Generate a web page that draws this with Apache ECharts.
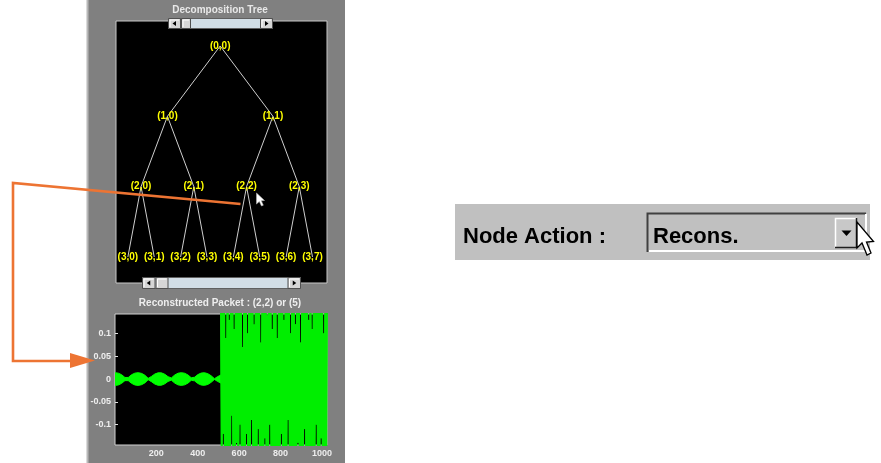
<!DOCTYPE html>
<html>
<head>
<meta charset="utf-8">
<script src="https://cdn.jsdelivr.net/npm/echarts@6/dist/echarts.min.js"></script>
<style>
html,body{margin:0;padding:0;background:#ffffff;}
#chart{width:881px;height:463px;}
</style>
</head>
<body>
<div id="chart"></div>
<script>
// ---- Tree structure: wavelet packet nodes (depth, index) ----
const nodeDepth = [0, 1, 1, 2, 2, 2, 2, 3, 3, 3, 3, 3, 3, 3, 3];
const nodeIndex = [0, 0, 1, 0, 1, 2, 3, 0, 1, 2, 3, 4, 5, 6, 7];
const treeLevels = 3;

// ---- Reconstructed packet (2,2): first half, envelope of the dense oscillation ----
const envStart = 1;
const envStep = 8;
const envValues = [
  0.014, 0.0138, 0.013, 0.0115, 0.0095, 0.0065, 0.0035, 0.0005,
  0.0035, 0.0068, 0.0095, 0.0117, 0.013, 0.0139, 0.014, 0.0135,
  0.0125, 0.0108, 0.0085, 0.0055, 0.0015, 0.0025, 0.0058, 0.0088,
  0.011, 0.0127, 0.0137, 0.014, 0.0136, 0.0125, 0.0106, 0.0082,
  0.0052, 0.0015, 0.0025, 0.0058, 0.0088, 0.0112, 0.0128, 0.0138,
  0.014, 0.0137, 0.0128, 0.0112, 0.009, 0.006, 0.0028, 0.0008,
  0.004, 0.0072, 0.0098, 0.0118, 0.0132, 0.0139, 0.0139, 0.0132,
  0.0118, 0.0098, 0.0072, 0.004, 0.0008, 0.0028, 0.0055, 0.0075,
  0.009
];
// ---- second half: dense high-frequency samples ----
const noiseStart = 512;
const noiseStep = 4;
const noiseValues = [
  0.22,-0.19,0.25,-0.12,0.17,-0.24,0.09,-0.2,0.28,-0.16,0.13,-0.27,0.21,-0.08,0.19,-0.22,0.11,-0.18,0.26,-0.14,
  0.2,-0.25,0.15,-0.1,0.23,-0.2,0.07,-0.23,0.18,-0.17,0.24,-0.12,0.1,-0.26,0.21,-0.19,0.16,-0.09,0.27,-0.21,
  0.12,-0.18,0.22,-0.24,0.19,-0.11,0.25,-0.2,0.08,-0.16,0.2,-0.28,0.17,-0.13,0.23,-0.22,0.14,-0.19,0.26,-0.1,
  0.18,-0.24,0.11,-0.21,0.24,-0.15,0.2,-0.27,0.09,-0.18,0.22,-0.2,0.16,-0.12,0.28,-0.23,0.13,-0.17,0.21,-0.25,
  0.19,-0.09,0.25,-0.2,0.1,-0.22,0.23,-0.16,0.17,-0.26,0.12,-0.19,0.27,-0.14,0.2,-0.21,0.08,-0.24,0.22,-0.18,
  0.15,-0.11,0.24,-0.23,0.19,-0.2,0.13,-0.27,0.26,-0.15,0.11,-0.22,0.21,-0.19,0.18,-0.1,0.25,-0.24,0.16,-0.2,
  0.23,-0.13,0.2,-0.26,0.1,-0.18,0.22,-0.21,0.19
];
const xTicks = [200, 400, 600, 800, 1000];
const yTicks = [-0.1, -0.05, 0, 0.05, 0.1];

const treeTitle = 'Decomposition Tree';
const plotTitle = 'Reconstructed Packet : (2,2) or (5)';
const actionLabel = 'Node Action :';
const actionValue = 'Recons.';

// ---- build tree graph data from structure ----
const graphNodes = nodeDepth.map((d, i) => {
  const k = nodeIndex[i];
  const span = Math.pow(2, treeLevels - d);
  return { name: '(' + d + ',' + k + ')', value: [(k + 0.5) * span - 0.5, d] };
});
const graphLinks = [];
nodeDepth.forEach((d, i) => {
  if (d === 0) return;
  const parent = nodeDepth.findIndex((pd, j) => pd === d - 1 && nodeIndex[j] === Math.floor(nodeIndex[i] / 2));
  graphLinks.push({ source: parent, target: i });
});

const upper = envValues.map((v, i) => [envStart + i * envStep, v]);
const lower = envValues.map((v, i) => [envStart + i * envStep, -v]);
const noise = noiseValues.map((v, i) => [noiseStart + i * noiseStep, v]);

// ---- decorative graphics ----
const FONT = 'Arial, "Liberation Sans", sans-serif';
const g = [];
g.push({ type: 'rect', z: -10, shape: { x: 88, y: 0, width: 257, height: 463 }, style: { fill: '#808080' } });
g.push({ type: 'rect', z: -9, shape: { x: 86.5, y: 0, width: 2, height: 463 }, style: { fill: '#b8b8b8' } });
g.push({ type: 'text', z: 50, style: { text: treeTitle, x: 220, y: 10.5, textAlign: 'center', textVerticalAlign: 'middle', fill: '#e8e8e8', fontSize: 10, fontWeight: 'bold', fontFamily: FONT } });
g.push({ type: 'text', z: 50, style: { text: plotTitle, x: 220, y: 303.5, textAlign: 'center', textVerticalAlign: 'middle', fill: '#eeeeee', fontSize: 10, fontWeight: 'bold', fontFamily: FONT } });

function button(x, y, w, h, dir) {
  g.push({ type: 'rect', z: 60, shape: { x: x, y: y, width: w, height: h }, style: { fill: '#d6d6d6', stroke: '#505050', lineWidth: 1 } });
  g.push({ type: 'polyline', z: 61, shape: { points: [[x + 1.5, y + h - 1.5], [x + 1.5, y + 1.5], [x + w - 1.5, y + 1.5]] }, style: { stroke: '#ffffff', fill: null, lineWidth: 1 } });
  const cx = x + w / 2, cy = y + h / 2;
  if (dir === 'left') g.push({ type: 'polygon', z: 62, shape: { points: [[cx - 2, cy], [cx + 1.5, cy - 2.5], [cx + 1.5, cy + 2.5]] }, style: { fill: '#000' } });
  if (dir === 'right') g.push({ type: 'polygon', z: 62, shape: { points: [[cx + 2, cy], [cx - 1.5, cy - 2.5], [cx - 1.5, cy + 2.5]] }, style: { fill: '#000' } });
}
function scrollbar(x, y, w, h, btn, thumbW) {
  g.push({ type: 'rect', z: 59, shape: { x: x, y: y, width: w, height: h }, style: { fill: '#d2dee6', stroke: '#606060', lineWidth: 1 } });
  button(x, y, btn, h, 'left');
  button(x + btn + 1, y, thumbW, h, null);
  button(x + w - btn, y, btn, h, 'right');
}
scrollbar(168.5, 18.5, 104, 10, 12, 9);
scrollbar(142.5, 277.5, 158, 11, 12.5, 12);

// Node Action widget
g.push({ type: 'rect', z: 10, shape: { x: 455, y: 204, width: 415, height: 56 }, style: { fill: '#c0c0c0' } });
g.push({ type: 'text', z: 11, style: { text: actionLabel, x: 463, y: 237, textVerticalAlign: 'middle', fill: '#000', fontSize: 22, fontWeight: 'bold', fontFamily: FONT } });
g.push({ type: 'polyline', z: 11, shape: { points: [[647.5, 252], [647.5, 213.5], [866, 213.5]] }, style: { stroke: '#404040', lineWidth: 2, fill: null } });
g.push({ type: 'polyline', z: 11, shape: { points: [[649, 251], [866, 251], [866, 214]] }, style: { stroke: '#ffffff', lineWidth: 2, fill: null } });
g.push({ type: 'text', z: 11, style: { text: actionValue, x: 653, y: 237, textVerticalAlign: 'middle', fill: '#000', fontSize: 22, fontWeight: 'bold', fontFamily: FONT } });
g.push({ type: 'rect', z: 12, shape: { x: 835, y: 218, width: 22, height: 30 }, style: { fill: '#c8c8c8' } });
g.push({ type: 'polyline', z: 13, shape: { points: [[835.5, 248], [835.5, 218.5], [857, 218.5]] }, style: { stroke: '#ffffff', lineWidth: 1.5, fill: null } });
g.push({ type: 'polyline', z: 13, shape: { points: [[835, 247.5], [856.5, 247.5], [856.5, 218]] }, style: { stroke: '#202020', lineWidth: 1.5, fill: null } });
g.push({ type: 'polygon', z: 13, shape: { points: [[841.5, 230.5], [851.5, 230.5], [846.5, 236]] }, style: { fill: '#000' } });
// big cursor
const cur = [[0, 0], [0, 26], [5, 21], [10, 33], [14, 31], [9.5, 20], [16.5, 19.5]];
g.push({ type: 'polygon', z: 20, shape: { points: cur.map(p => [857 + p[0], 222 + p[1]]) }, style: { fill: '#ffffff', stroke: '#000000', lineWidth: 1.3 } });
// small cursor in the tree
const cur2 = [[0, 0], [0, 11], [2.8, 8.5], [5, 13], [6.8, 12.2], [4.8, 7.8], [8, 7.5]];
g.push({ type: 'polygon', z: 20, shape: { points: cur2.map(p => [256.5 + p[0], 193 + p[1]]) }, style: { fill: '#ffffff', stroke: '#b0b0b0', lineWidth: 0.6 } });
// orange annotation arrow
g.push({ type: 'polyline', z: 100, shape: { points: [[240.5, 204], [13, 183], [13, 361], [74, 361]] }, style: { stroke: '#ED7433', lineWidth: 2.6, fill: null, lineJoin: 'miter' } });
g.push({ type: 'polygon', z: 100, shape: { points: [[70, 353], [95, 360.5], [70, 368]] }, style: { fill: '#ED7433' } });

const axLabel = { color: '#eeeeee', fontSize: 9, fontWeight: 'bold', fontFamily: FONT, formatter: v => String(v) };

const option = {
  animation: false,
  backgroundColor: '#ffffff',
  graphic: g,
  grid: [
    { left: 116, top: 21, width: 211, height: 262, show: true, backgroundColor: '#000000', borderColor: '#c8c8c8', borderWidth: 1 },
    { left: 115, top: 314, width: 212, height: 131, show: true, backgroundColor: '#000000', borderColor: '#d0d0d0', borderWidth: 1 }
  ],
  xAxis: [
    { gridIndex: 0, type: 'value', min: -0.45, max: 7.55, show: false },
    { gridIndex: 1, type: 'value', min: 1, max: 1024, position: 'bottom',
      axisLine: { show: false }, splitLine: { show: false },
      axisTick: { show: true, inside: true, length: 3, lineStyle: { color: '#e0e0e0' }, customValues: xTicks },
      axisLabel: Object.assign({ margin: 4, customValues: xTicks }, axLabel) },
    { gridIndex: 1, type: 'value', min: 1, max: 1024, position: 'top',
      axisLine: { show: false }, splitLine: { show: false },
      axisTick: { show: true, inside: true, length: 3, lineStyle: { color: '#e0e0e0' }, customValues: xTicks },
      axisLabel: { show: false } }
  ],
  yAxis: [
    { gridIndex: 0, type: 'value', min: -0.355, max: 3.37, inverse: true, show: false },
    { gridIndex: 1, type: 'value', min: -0.145, max: 0.143, position: 'left',
      axisLine: { show: false }, splitLine: { show: false },
      axisTick: { show: true, inside: true, length: 3, lineStyle: { color: '#e0e0e0' }, customValues: yTicks },
      axisLabel: Object.assign({ margin: 4, customValues: yTicks }, axLabel) },
    { gridIndex: 1, type: 'value', min: -0.145, max: 0.143, position: 'right',
      axisLine: { show: false }, splitLine: { show: false },
      axisTick: { show: true, inside: true, length: 3, lineStyle: { color: '#e0e0e0' }, customValues: yTicks },
      axisLabel: { show: false } }
  ],
  series: [
    { type: 'graph', coordinateSystem: 'cartesian2d', xAxisIndex: 0, yAxisIndex: 0,
      silent: true, symbol: 'circle', symbolSize: 1,
      itemStyle: { color: 'rgba(0,0,0,0)' },
      lineStyle: { color: '#cfcfcf', width: 1, opacity: 1, curveness: 0 },
      label: { show: true, position: 'inside', formatter: '{b}', color: '#ffff00', fontSize: 10, fontWeight: 'bold', fontFamily: FONT },
      emphasis: { disabled: true },
      data: graphNodes, links: graphLinks },
    { type: 'line', xAxisIndex: 1, yAxisIndex: 1, data: upper, symbol: 'none', silent: true,
      lineStyle: { color: '#00ff00', width: 1 }, areaStyle: { color: '#00ff00', opacity: 1 } },
    { type: 'line', xAxisIndex: 1, yAxisIndex: 1, data: lower, symbol: 'none', silent: true,
      lineStyle: { color: '#00ff00', width: 1 }, areaStyle: { color: '#00ff00', opacity: 1 } },
    { type: 'line', xAxisIndex: 1, yAxisIndex: 1, data: noise, symbol: 'none', silent: true, clip: true,
      lineStyle: { color: '#00ff00', width: 1 }, areaStyle: { color: '#00ff00', opacity: 1 } },
    { type: 'line', xAxisIndex: 1, yAxisIndex: 1, data: noise, symbol: 'none', silent: true, clip: true,
      lineStyle: { color: '#00ee00', width: 2 } }
  ]
};
const chart = echarts.init(document.getElementById('chart'), null, { renderer: 'canvas' });
chart.setOption(option);
</script>
</body>
</html>
